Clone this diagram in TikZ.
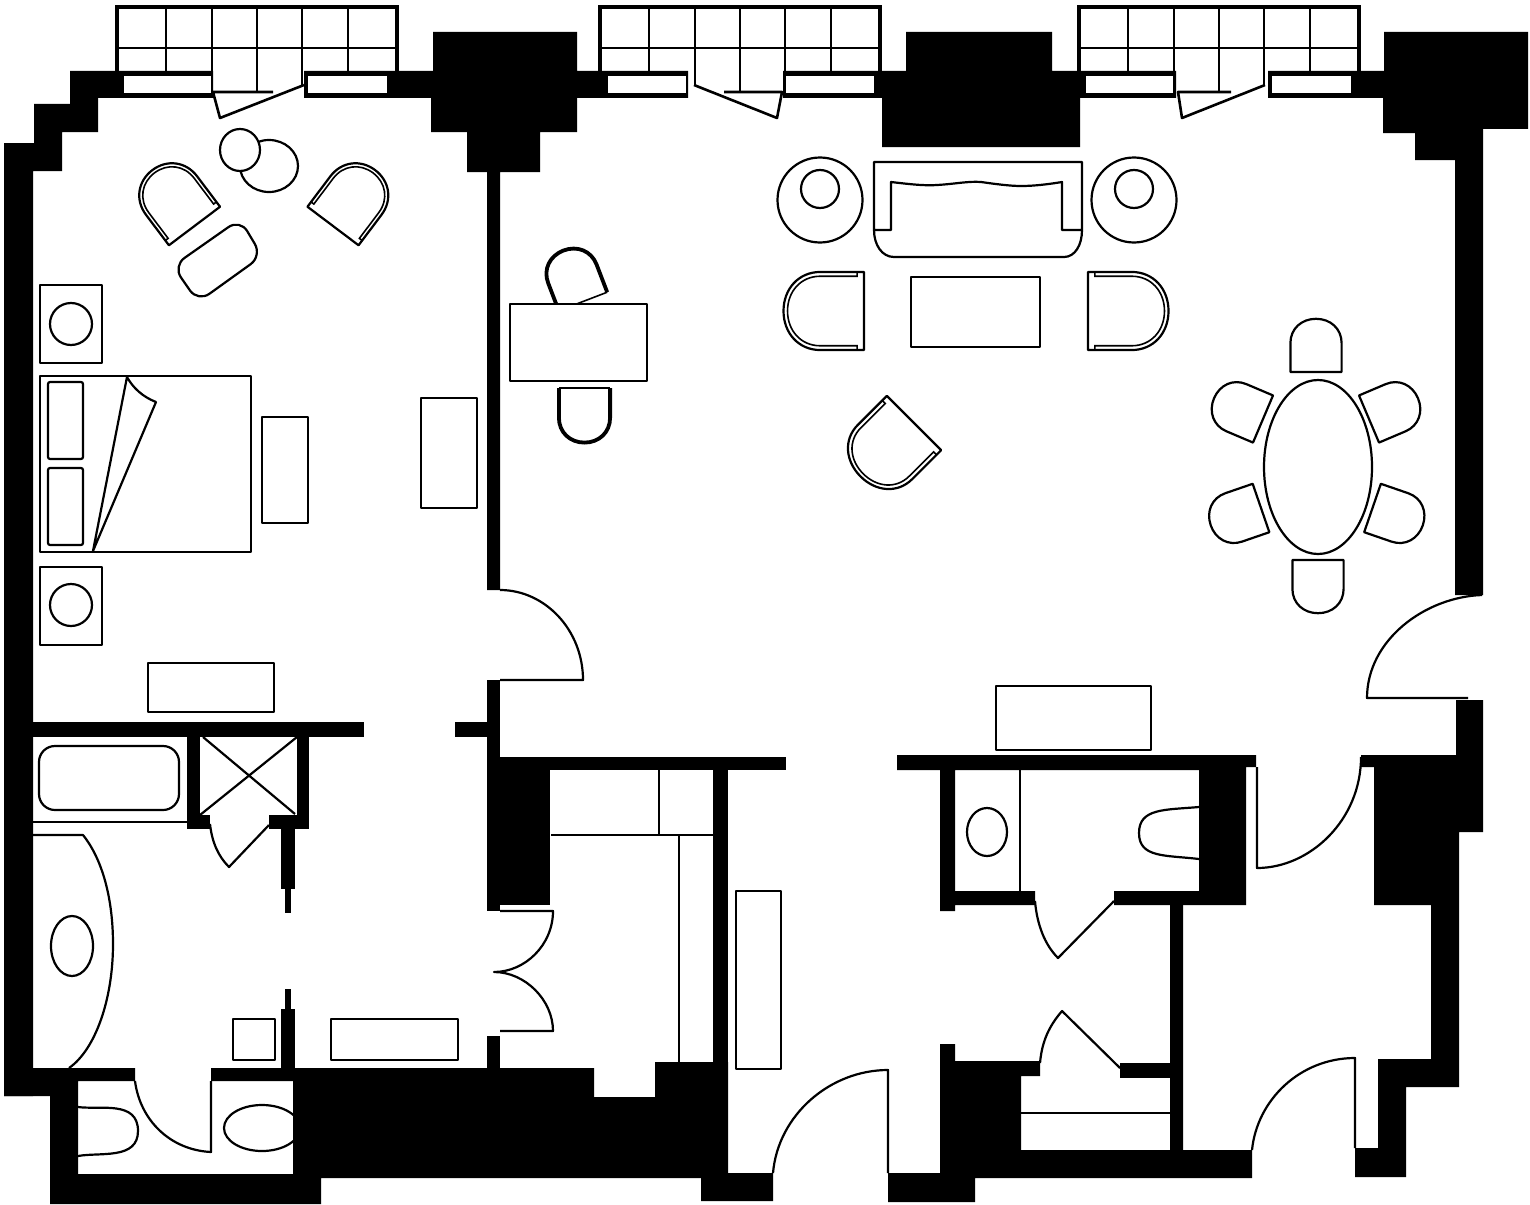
\documentclass[tikz,border=0pt]{standalone}
\tikzset{
  wall/.style={fill=black},
  slot/.style={fill=white},
  furn/.style={draw=black,line width=1.1pt,line join=round},
  fine/.style={draw=black,line width=.8pt},
  leaf/.style={draw=black,line width=1.3pt,line join=round},
  pics/windowbay/.style={code={
    \draw[line width=2pt] (0,71) -- (0,7) -- (280,7) -- (280,71);
    \draw[line width=1.3pt] (0,48) -- (280,48);
    \foreach \mx in {49,231} \draw[line width=1.2pt] (\mx,7) -- (\mx,71);
    \foreach \mx in {95,140,185} \draw[line width=1.2pt] (\mx,7) -- (\mx,86);
  }},
  pics/armchair/.style={code={
    \draw[furn,fill=white] (-32,0) -- (-32,-38) .. controls (-32,-57) and (-18,-70) .. (0,-70)
      .. controls (18,-70) and (32,-57) .. (32,-38) -- (32,0) -- cycle;
    \draw[fine] (-32,-6) -- (-28.5,-6) -- (-28.5,-38) .. controls (-28.5,-55) and (-16,-66.5) .. (0,-66.5)
      .. controls (16,-66.5) and (28.5,-55) .. (28.5,-38) -- (28.5,-6) -- (32,-6);
  }},
  pics/sidechair/.style={code={
    \draw[furn,fill=white] (-32,0) -- (-32,-38) .. controls (-32,-57) and (-18,-70) .. (0,-70)
      .. controls (18,-70) and (32,-57) .. (32,-38) -- (32,0) -- cycle;
  }},
  pics/deskchair/.style={code={
    \draw[fine,fill=white] (-32,0) -- (32,0);
    \draw[line width=1.9pt] (-32,0) -- (-32,-38) .. controls (-32,-57) and (-18,-70) .. (0,-70)
      .. controls (18,-70) and (32,-57) .. (32,-38) -- (32,0);
  }},
}

\begin{document}
\begin{tikzpicture}[x=.5pt,y=-.5pt]
  \useasboundingbox (0,0) rectangle (1530,1204);

  % fixtures that run under the walls
  \draw[furn] (262,1128) ellipse [x radius=38,y radius=23];

  % outer walls and chimney breasts
  \fill[wall] (4,143) -- (34,143) -- (34,104) -- (70,104) -- (70,71) -- (213,71) -- (213,98)
    -- (98,98) -- (98,132) -- (62,132) -- (62,171) -- (33,171) -- (33,1096) -- (4,1096) -- cycle;
  \fill[wall] (304,71) -- (433,71) -- (433,32) -- (577,32) -- (577,71) -- (688,71) -- (688,98)
    -- (577,98) -- (577,132) -- (540,132) -- (540,172) -- (500,172) -- (500,590) -- (487,590)
    -- (487,172) -- (467,172) -- (467,132) -- (431,132) -- (431,98) -- (304,98) -- cycle;
  \fill[wall] (783,71) -- (906,71) -- (906,32) -- (1052,32) -- (1052,71) -- (1176,71) -- (1176,98)
    -- (1080,98) -- (1080,147) -- (882,147) -- (882,98) -- (783,98) -- cycle;
  \fill[wall] (1268,71) -- (1384,71) -- (1384,32) -- (1528,32) -- (1528,129) -- (1483,129)
    -- (1483,595) -- (1455,595) -- (1455,160) -- (1415,160) -- (1415,133) -- (1383,133)
    -- (1383,98) -- (1268,98) -- cycle;
  \foreach \sa/\sb in {124/211,308/387,608/686,786/874,1086/1173,1272/1351}
    \fill[slot] (\sa,76) rectangle (\sb,93);

  % windows
  \pic at (117,0) {windowbay};
  \pic at (600,0) {windowbay};
  \pic at (1079,0) {windowbay};
  \foreach \mx in {212,257,740,785,1174,1219} \draw[line width=1.2pt] (\mx,85) -- (\mx,92);
  \draw[leaf] (304,85) -- (220,118) -- (213,92) -- (273,92);
  \draw[leaf] (694,85) -- (777,118) -- (782,92) -- (724,92);
  \draw[leaf] (1265,85) -- (1182,118) -- (1178,92) -- (1231,92);

  % inner walls
  \fill[wall] (33,722) rectangle (364,737);
  \fill[wall] (455,722) rectangle (488,737);
  \fill[wall] (487,680) rectangle (500,911);
  \fill[wall] (487,757) rectangle (550,905);
  \fill[wall] (487,757) rectangle (786,770);
  \fill[wall] (713,757) rectangle (728,1178);
  \fill[wall] (487,1036) rectangle (500,1068);
  \fill[wall] (211,1068) -- (594,1068) -- (594,1097) -- (655,1097) -- (655,1062) -- (728,1062)
    -- (728,1173) -- (773,1173) -- (773,1201) -- (701,1201) -- (701,1178) -- (321,1178)
    -- (321,1204) -- (50,1204) -- (50,1096) -- (4,1096) -- (4,1068) -- (135,1068) -- (135,1081)
    -- (78,1081) -- (78,1174) -- (293,1174) -- (293,1081) -- (211,1081) -- cycle;
  \fill[wall] (940,1044) -- (955,1044) -- (955,1061) -- (1040,1061) -- (1040,1076) -- (1021,1076)
    -- (1021,1150) -- (1170,1150) -- (1170,905) -- (1183,905) -- (1183,1150) -- (1252,1150)
    -- (1252,1178) -- (975,1178) -- (975,1202) -- (888,1202) -- (888,1173) -- (940,1173) -- cycle;
  \fill[wall] (1120,1063) rectangle (1170,1078);
  \fill[wall] (897,755) -- (1256,755) -- (1256,767) -- (1246,767) -- (1246,905) -- (1114,905)
    -- (1114,891) -- (1199,891) -- (1199,770) -- (955,770) -- (955,891) -- (1035,891) -- (1035,905)
    -- (955,905) -- (955,911) -- (940,911) -- (940,770) -- (897,770) -- cycle;
  \fill[wall] (1361,755) -- (1456,755) -- (1456,700) -- (1483,700) -- (1483,832) -- (1459,832)
    -- (1459,1087) -- (1406,1087) -- (1406,1177) -- (1355,1177) -- (1355,1148) -- (1378,1148)
    -- (1378,1059) -- (1431,1059) -- (1431,905) -- (1374,905) -- (1374,767) -- (1361,767) -- cycle;

  % shower and partition
  \fill[wall] (187,737) rectangle (200,829);
  \fill[wall] (297,737) rectangle (309,829);
  \fill[wall] (187,815) rectangle (210,829);
  \fill[wall] (269,815) rectangle (309,829);
  \fill[wall] (281,829) rectangle (295,889);
  \fill[wall] (285,889) rectangle (291,913);
  \fill[wall] (285,989) rectangle (291,1009);
  \fill[wall] (281,1009) rectangle (295,1068);
  \draw[furn] (203,737) -- (295,814);
  \draw[furn] (297,737) -- (200,815);

  % doors
  \draw[furn] (500,590) .. controls (545,590) and (583,630) .. (583,680) -- (500,680);
  \draw[furn] (1482,595) .. controls (1425,597) and (1367,640) .. (1367,698) -- (1468,698);
  \draw[furn] (1361,757) .. controls (1361,820) and (1310,868) .. (1257,868) -- (1257,767);
  \draw[furn] (773,1173) .. controls (778,1115) and (830,1070) .. (888,1070) -- (888,1173);
  \draw[furn] (1252,1150) .. controls (1257,1100) and (1300,1058) .. (1355,1058) -- (1355,1148);
  \draw[furn] (135,1081) .. controls (140,1120) and (170,1150) .. (211,1152) -- (211,1081);
  \draw[furn] (210,824) .. controls (212,842) and (218,856) .. (229,867) -- (269,825);
  \draw[furn] (1035,901) .. controls (1037,925) and (1045,945) .. (1058,958) -- (1114,901);
  \draw[furn] (1040,1063) .. controls (1042,1040) and (1050,1025) .. (1062,1011) -- (1120,1068);
  \draw[furn] (500,911) -- (553,911) .. controls (553,945) and (525,972) .. (494,972)
    .. controls (525,972) and (553,1000) .. (553,1031) -- (500,1031);

  % bathrooms and closets
  \draw[furn,rounded corners=8] (39,746) rectangle (179,810);
  \draw[furn] (33,822) -- (187,822);
  \draw[furn] (33,835) -- (83,835) .. controls (103,860) and (113,900) .. (113,944)
    .. controls (113,1000) and (95,1050) .. (69,1068);
  \draw[furn] (72,946) ellipse [x radius=21,y radius=30];
  \draw[furn] (78,1107) .. controls (100,1110) and (138,1100) .. (138,1131)
    .. controls (138,1160) and (100,1152) .. (78,1156);
  \draw[furn] (1199,807) .. controls (1165,810) and (1139,808) .. (1139,833)
    .. controls (1139,858) and (1165,855) .. (1199,859);
  \draw[furn] (987,832) ellipse [x radius=20,y radius=24];
  \draw[fine] (1020,770) -- (1020,891);
  \draw[fine] (659,770) -- (659,835);
  \draw[furn] (551,835) -- (713,835);
  \draw[fine] (679,835) -- (679,1062);
  \draw[line width=1.4pt] (1021,1113) -- (1170,1113);

  % bedroom
  \draw[furn] (269,166) ellipse [x radius=29,y radius=26];
  \draw[furn,fill=white] (240,150) ellipse [x radius=20,y radius=21];
  \pic[rotate=37] at (194.5,226) {armchair};
  \pic[rotate=-37] at (333,226) {armchair};
  \draw[furn,rounded corners=7] (240,219) -- (262,256) -- (198,302) -- (173,266) -- cycle;
  \draw[furn] (40,285) rectangle (102,363);
  \draw[furn] (71,324) circle [radius=21];
  \draw[furn] (40,567) rectangle (102,645);
  \draw[furn] (71,605) circle [radius=21];
  \draw[furn] (40,376) rectangle (251,552);
  \draw[furn,rounded corners=1] (48,382) rectangle (83,459);
  \draw[furn,rounded corners=1] (48,468) rectangle (83,545);
  \draw[furn] (93,551) -- (127,377) .. controls (133,388) and (143,397) .. (156,402) -- cycle;
  \draw[furn] (262,417) rectangle (308,523);
  \draw[furn] (421,398) rectangle (477,508);
  \draw[furn] (148,663) rectangle (274,712);
  \draw[furn] (233,1019) rectangle (275,1060);
  \draw[furn] (331,1019) rectangle (458,1060);

  % living room
  \pic[rotate=21,xscale=.81,yscale=.78] at (583,301.5) {deskchair};
  \draw[furn,fill=white] (510,304) rectangle (647,381);
  \pic[rotate=180,xscale=.8,yscale=.78] at (584.5,388) {deskchair};
  \draw[furn] (820,200) circle [radius=42.5];
  \draw[furn] (820,189) circle [radius=19];
  \draw[furn] (1134,200) circle [radius=42.5];
  \draw[furn] (1134,189) circle [radius=19];
  \draw[furn] (874,230) -- (874,162) -- (1082,162) -- (1082,230)
    .. controls (1082,245) and (1075,257) .. (1064,257) -- (894,257)
    .. controls (882,257) and (874,245) .. (874,230) -- (891,230) -- (891,182)
    .. controls (908,184) and (925,186) .. (937,185) .. controls (955,184) and (968,181) .. (981,182)
    .. controls (995,184) and (1010,186) .. (1021,186) .. controls (1035,186) and (1050,184) .. (1062,182)
    -- (1062,230) -- (1082,230);
  \draw[furn] (911,277) rectangle (1040,347);
  \pic[rotate=90,xscale=1.22,yscale=1.15] at (864,311) {armchair};
  \pic[rotate=-90,xscale=1.22,yscale=1.15] at (1088,311) {armchair};
  \pic[rotate=135,xscale=1.2,yscale=1.08] at (914,423) {armchair};
  \draw[furn] (996,686) rectangle (1151,750);
  \draw[furn] (736,891) rectangle (781,1069);

  % dining table
  \draw[furn] (1318,467) ellipse [x radius=54,y radius=87];
  \foreach \cx/\cy/\ca in {1316/372/0,1318/560/180,1263/419/67,1369/419/-67,1261/508/109,1372.5/508/-109}
    \pic[rotate=\ca,xscale=.8,yscale=.76] at (\cx,\cy) {sidechair};
\end{tikzpicture}
\end{document}
